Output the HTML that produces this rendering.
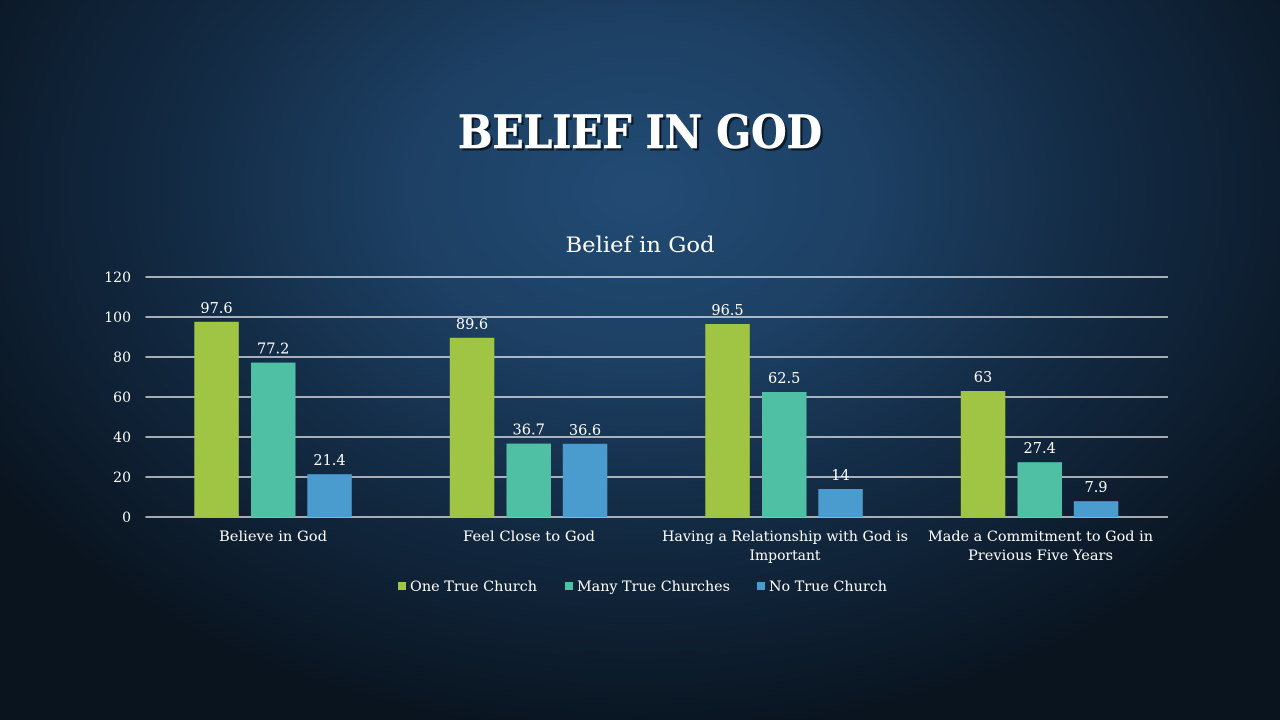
<!DOCTYPE html>
<html>
<head>
<meta charset="utf-8">
<style>
html,body{margin:0;padding:0;}
body{width:1280px;height:720px;overflow:hidden;background:#0c1a2a;}
svg{display:block;}
text{font-family:"DejaVu Serif","Liberation Serif",serif;fill:#ffffff;}
</style>
</head>
<body>
<svg width="1280" height="720" viewBox="0 0 1280 720" xmlns="http://www.w3.org/2000/svg">
<defs>
<radialGradient id="bg" cx="640" cy="190" r="760" gradientUnits="userSpaceOnUse" gradientTransform="translate(640 190) scale(1 0.72) translate(-640 -190)">
<stop offset="0" stop-color="#224b74"/>
<stop offset="0.3" stop-color="#1d4064"/>
<stop offset="0.6" stop-color="#132b44"/>
<stop offset="0.85" stop-color="#0d1d2e"/>
<stop offset="1" stop-color="#09141f"/>
</radialGradient>
</defs>
<rect x="0" y="0" width="1280" height="720" fill="url(#bg)"/>

<!-- Title -->
<text x="642.5" y="150.5" text-anchor="middle" font-size="46" font-weight="bold" textLength="364" lengthAdjust="spacingAndGlyphs" style="fill:#000;opacity:0.6">BELIEF IN GOD</text>
<text x="640" y="148" text-anchor="middle" font-size="46" font-weight="bold" textLength="364" lengthAdjust="spacingAndGlyphs" stroke="#ffffff" stroke-width="0.6">BELIEF IN GOD</text>

<!-- Chart title -->
<text x="640" y="252" text-anchor="middle" font-size="21" textLength="149" lengthAdjust="spacingAndGlyphs">Belief in God</text>

<!-- Gridlines -->
<g stroke="#ffffff" stroke-width="1.3">
<line x1="145.5" y1="277" x2="1168" y2="277"/>
<line x1="145.5" y1="317" x2="1168" y2="317"/>
<line x1="145.5" y1="357" x2="1168" y2="357"/>
<line x1="145.5" y1="397" x2="1168" y2="397"/>
<line x1="145.5" y1="437" x2="1168" y2="437"/>
<line x1="145.5" y1="477" x2="1168" y2="477"/>
<line x1="145.5" y1="517" x2="1168" y2="517"/>
</g>

<!-- Y axis labels -->
<g font-size="14" text-anchor="end">
<text x="131" y="282">120</text>
<text x="131" y="322">100</text>
<text x="131" y="362">80</text>
<text x="131" y="402">60</text>
<text x="131" y="442">40</text>
<text x="131" y="482">20</text>
<text x="131" y="522">0</text>
</g>

<!-- Bars -->
<g>
<rect x="194.3" y="321.8" width="44.5" height="195.2" fill="#a0c545"/>
<rect x="251" y="362.6" width="44.5" height="154.4" fill="#4fc0a4"/>
<rect x="307.3" y="474.2" width="44.5" height="42.8" fill="#4a9ccf"/>
<rect x="449.8" y="337.8" width="44.5" height="179.2" fill="#a0c545"/>
<rect x="506.5" y="443.6" width="44.5" height="73.4" fill="#4fc0a4"/>
<rect x="562.8" y="443.8" width="44.5" height="73.2" fill="#4a9ccf"/>
<rect x="705.3" y="324" width="44.5" height="193" fill="#a0c545"/>
<rect x="762" y="392" width="44.5" height="125" fill="#4fc0a4"/>
<rect x="818.3" y="489" width="44.5" height="28" fill="#4a9ccf"/>
<rect x="960.8" y="391" width="44.5" height="126" fill="#a0c545"/>
<rect x="1017.5" y="462.2" width="44.5" height="54.8" fill="#4fc0a4"/>
<rect x="1073.8" y="501.2" width="44.5" height="15.8" fill="#4a9ccf"/>
</g>

<!-- Data labels -->
<g font-size="14.5" text-anchor="middle">
<text x="216.5" y="312.8">97.6</text>
<text x="273.2" y="353.6">77.2</text>
<text x="329.5" y="465.2">21.4</text>
<text x="472" y="328.8">89.6</text>
<text x="528.7" y="434.6">36.7</text>
<text x="585" y="434.8">36.6</text>
<text x="727.5" y="315">96.5</text>
<text x="784.2" y="383">62.5</text>
<text x="840.5" y="480">14</text>
<text x="983" y="382">63</text>
<text x="1039.7" y="453.2">27.4</text>
<text x="1096" y="492.2">7.9</text>
</g>

<!-- Category labels -->
<g font-size="14" text-anchor="middle">
<text x="273" y="541" textLength="108" lengthAdjust="spacingAndGlyphs">Believe in God</text>
<text x="529" y="541" textLength="132" lengthAdjust="spacingAndGlyphs">Feel Close to God</text>
<text x="785" y="541" textLength="246" lengthAdjust="spacingAndGlyphs">Having a Relationship with God is</text>
<text x="785" y="560" textLength="71" lengthAdjust="spacingAndGlyphs">Important</text>
<text x="1040.5" y="541" textLength="225" lengthAdjust="spacingAndGlyphs">Made a Commitment to God in</text>
<text x="1040.5" y="560" textLength="145" lengthAdjust="spacingAndGlyphs">Previous Five Years</text>
</g>

<!-- Legend -->
<rect x="398" y="582" width="8" height="8" fill="#a0c545"/>
<text x="410" y="591" font-size="14" textLength="127" lengthAdjust="spacingAndGlyphs">One True Church</text>
<rect x="565" y="582" width="8" height="8" fill="#4fc0a4"/>
<text x="577" y="591" font-size="14" textLength="153" lengthAdjust="spacingAndGlyphs">Many True Churches</text>
<rect x="757" y="582" width="8" height="8" fill="#4a9ccf"/>
<text x="769" y="591" font-size="14" textLength="118" lengthAdjust="spacingAndGlyphs">No True Church</text>
</svg>
</body>
</html>
